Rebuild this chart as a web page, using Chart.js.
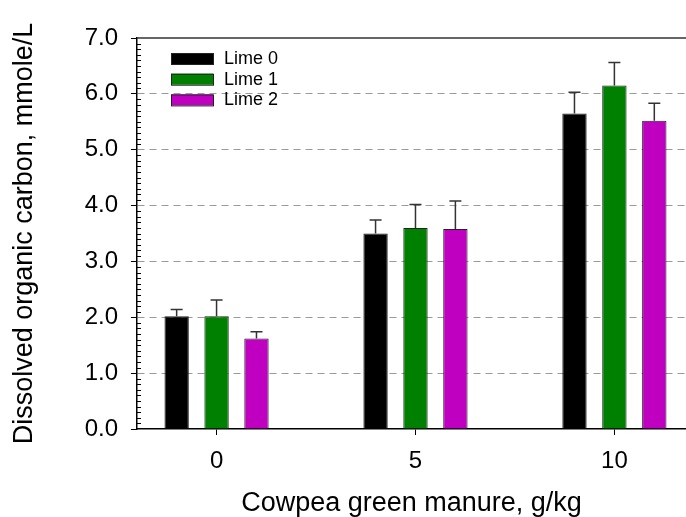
<!DOCTYPE html>
<html>
<head>
<meta charset="utf-8">
<script src="https://cdn.jsdelivr.net/npm/chart.js"></script>
<style>
    body { margin: 0; background: #fff; }
    #wrap { width: 686px; height: 517px; }
</style>
</head>
<body>
<div id="wrap"><canvas id="docChart" width="686" height="517"></canvas></div>

<script>
// -----------------------------------------------------
// DATA
// -----------------------------------------------------
const manureRates = [0, 5, 10];               // g/kg
const seriesNames = ["Lime 0", "Lime 1", "Lime 2"];
const lime0 = [2.02, 3.50, 5.65];
const lime1 = [2.02, 3.60, 6.15];
const lime2 = [1.62, 3.58, 5.52];
const lime0Err = [0.12, 0.24, 0.38];
const lime1Err = [0.29, 0.42, 0.41];
const lime2Err = [0.12, 0.50, 0.31];
const yTicks = [0, 1, 2, 3, 4, 5, 6, 7];

const seriesValues = [lime0, lime1, lime2];
const seriesErrors = [lime0Err, lime1Err, lime2Err];
const seriesColors = ["#000000", "#008000", "#c000c0"];

const FONT = "Arial, 'Liberation Sans', sans-serif";

// -----------------------------------------------------
// PLUGINS: error bars, minor ticks, top frame, legend
// -----------------------------------------------------
const errorBars = {
    id: "errorBars",
    afterDatasetsDraw(chart) {
        const ctx = chart.ctx;
        const yScale = chart.scales.y;
        ctx.save();
        ctx.strokeStyle = "#333";
        ctx.lineWidth = 1.5;
        chart.data.datasets.forEach((ds, i) => {
            const meta = chart.getDatasetMeta(i);
            meta.data.forEach((bar, j) => {
                const top = yScale.getPixelForValue(ds.data[j].y + seriesErrors[i][j]);
                ctx.beginPath();
                ctx.moveTo(bar.x, bar.y);
                ctx.lineTo(bar.x, top);
                ctx.moveTo(bar.x - 6, top);
                ctx.lineTo(bar.x + 6, top);
                ctx.stroke();
            });
        });
        ctx.restore();
    }
};

const frameAndMinor = {
    id: "frameAndMinor",
    afterDraw(chart) {
        const ctx = chart.ctx;
        const area = chart.chartArea;
        const yScale = chart.scales.y;
        ctx.save();
        // top frame line
        ctx.strokeStyle = "#333";
        ctx.lineWidth = 1.5;
        ctx.beginPath();
        ctx.moveTo(area.left, area.top);
        ctx.lineTo(area.right, area.top);
        ctx.stroke();
        // minor ticks every 0.1, pointing inward
        ctx.strokeStyle = "#000";
        ctx.lineWidth = 1;
        for (let k = 1; k < 70; k++) {
            if (k % 10 === 0) continue;
            const py = Math.round(yScale.getPixelForValue(k / 10)) + 0.5;
            ctx.beginPath();
            ctx.moveTo(area.left, py);
            ctx.lineTo(area.left + 4, py);
            ctx.stroke();
        }
        ctx.restore();
    }
};

const boxLegend = {
    id: "boxLegend",
    afterDraw(chart) {
        const ctx = chart.ctx;
        ctx.save();
        ctx.font = "18px " + FONT;
        ctx.textBaseline = "middle";
        chart.data.datasets.forEach((ds, i) => {
            const y = 53 + i * 20.7;
            ctx.fillStyle = ds.backgroundColor;
            ctx.fillRect(171, y, 42, 11);
            ctx.strokeStyle = "#222";
            ctx.lineWidth = 1;
            ctx.strokeRect(171.5, y + 0.5, 42, 11);
            ctx.fillStyle = "#000";
            ctx.fillText(ds.label, 224, y + 6);
        });
        ctx.restore();
    }
};

// -----------------------------------------------------
// CHART
// -----------------------------------------------------
new Chart(document.getElementById("docChart"), {
    type: "bar",
    data: {
        datasets: seriesNames.map((name, i) => ({
            label: name,
            data: manureRates.map((r, j) => ({ x: r, y: seriesValues[i][j] })),
            backgroundColor: seriesColors[i],
            borderColor: "#222",
            borderWidth: 1,
            categoryPercentage: 0.602,
            barPercentage: 0.61
        }))
    },
    options: {
        responsive: false,
        animation: false,
        layout: { padding: { top: 38, left: 0, right: 0, bottom: 0 } },
        plugins: {
            legend: { display: false },
            tooltip: { enabled: false }
        },
        scales: {
            x: {
                type: "linear",
                min: -2,
                max: 11.8,
                offset: false,
                afterBuildTicks: (scale) => {
                    scale.ticks = manureRates.map(v => ({ value: v }));
                },
                afterFit: (scale) => { scale.height = 88; },
                grid: {
                    offset: false,
                    drawOnChartArea: false,
                    color: "#000",
                    tickLength: 6
                },
                border: { color: "#000", width: 1.5 },
                ticks: {
                    color: "#000",
                    padding: 12,
                    maxRotation: 0,
                    font: { family: FONT, size: 24 }
                },
                title: {
                    display: true,
                    text: "Cowpea green manure, g/kg",
                    color: "#000",
                    padding: { top: 0, bottom: 0 },
                    font: { family: FONT, size: 27, lineHeight: 1 }
                }
            },
            y: {
                min: 0,
                max: 7,
                afterBuildTicks: (scale) => {
                    scale.ticks = yTicks.map(v => ({ value: v }));
                },
                afterFit: (scale) => { scale.width = 137; },
                grid: {
                    color: (c) => (c.tick && c.tick.value > 0 && c.tick.value < 7) ? "#9a9a9a" : "rgba(0,0,0,0)",
                    tickColor: "#000",
                    tickLength: 6,
                    lineWidth: 1
                },
                border: { color: "#000", width: 1.5, dash: [7, 5] },
                ticks: {
                    color: "#000",
                    padding: 13,
                    font: { family: FONT, size: 24 },
                    callback: (v) => Number(v).toFixed(1)
                },
                title: {
                    display: true,
                    text: "Dissolved organic carbon, mmole/L",
                    color: "#000",
                    padding: { top: 11, bottom: 0 },
                    font: { family: FONT, size: 27, lineHeight: 1 }
                }
            }
        }
    },
    plugins: [errorBars, frameAndMinor, boxLegend]
});
</script>
</body>
</html>
